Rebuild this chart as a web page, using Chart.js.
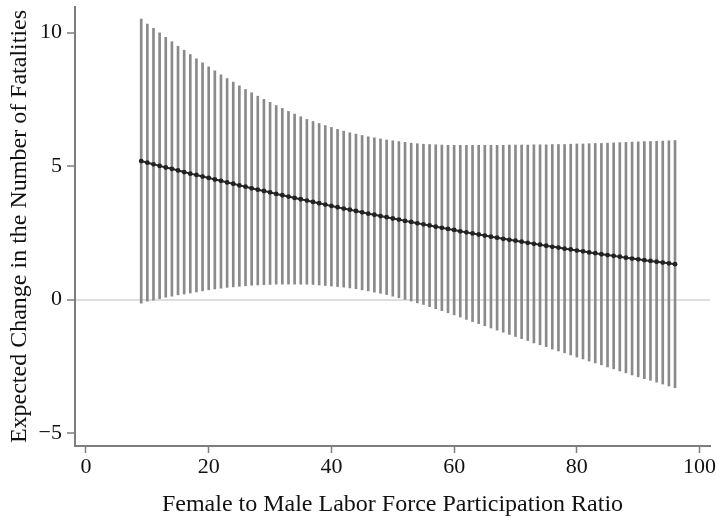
<!DOCTYPE html>
<html>
<head>
<meta charset="utf-8">
<script src="https://cdn.jsdelivr.net/npm/chart.js@4.4.1/dist/chart.umd.min.js"></script>
<style>
  html, body { margin: 0; padding: 0; background: #fff; }
  #wrap { width: 716px; height: 518px; }
</style>
</head>
<body>
<div id="wrap"><canvas id="chart" width="716" height="518"></canvas></div>
<script>
// female to male labor force participation ratio (x positions of the estimates)
const ratio = [
  9, 10, 11, 12, 13, 14, 15, 16, 17, 18, 19, 20, 21, 22, 23, 24, 25, 26, 27, 28,
  29, 30, 31, 32, 33, 34, 35, 36, 37, 38, 39, 40, 41, 42, 43, 44, 45, 46, 47, 48,
  49, 50, 51, 52, 53, 54, 55, 56, 57, 58, 59, 60, 61, 62, 63, 64, 65, 66, 67, 68,
  69, 70, 71, 72, 73, 74, 75, 76, 77, 78, 79, 80, 81, 82, 83, 84, 85, 86, 87, 88,
  89, 90, 91, 92, 93, 94, 95, 96
];

// expected change in fatalities (point estimate)
const estimate = [
  5.19, 5.13, 5.07, 5.01, 4.95, 4.90, 4.84, 4.78, 4.72, 4.67, 4.61, 4.56, 4.50, 4.45, 4.39, 4.34, 4.28, 4.23, 4.17, 4.12,
  4.07, 4.02, 3.96, 3.91, 3.86, 3.81, 3.76, 3.71, 3.66, 3.61, 3.56, 3.51, 3.46, 3.41, 3.37, 3.32, 3.27, 3.22, 3.18, 3.13,
  3.09, 3.04, 3.00, 2.95, 2.91, 2.86, 2.82, 2.78, 2.73, 2.69, 2.65, 2.61, 2.56, 2.52, 2.48, 2.44, 2.40, 2.36, 2.32, 2.28,
  2.24, 2.21, 2.17, 2.13, 2.09, 2.06, 2.02, 1.98, 1.95, 1.91, 1.88, 1.84, 1.81, 1.77, 1.74, 1.70, 1.67, 1.64, 1.61, 1.57,
  1.54, 1.51, 1.48, 1.45, 1.42, 1.39, 1.36, 1.33
];

// upper end of the confidence interval
const upper = [
  10.51, 10.32, 10.16, 9.99, 9.82, 9.66, 9.49, 9.34, 9.18, 9.02, 8.87, 8.72, 8.57, 8.42, 8.28, 8.15, 8.01, 7.87, 7.75, 7.62,
  7.50, 7.39, 7.27, 7.16, 7.05, 6.95, 6.85, 6.75, 6.67, 6.60, 6.52, 6.45, 6.38, 6.31, 6.25, 6.20, 6.15, 6.10, 6.06, 6.02,
  5.98, 5.95, 5.92, 5.89, 5.86, 5.84, 5.82, 5.81, 5.80, 5.79, 5.78, 5.78, 5.78, 5.78, 5.78, 5.78, 5.78, 5.78, 5.78, 5.78,
  5.79, 5.79, 5.79, 5.79, 5.80, 5.80, 5.80, 5.81, 5.81, 5.81, 5.82, 5.83, 5.83, 5.84, 5.85, 5.85, 5.86, 5.87, 5.88, 5.89,
  5.90, 5.91, 5.92, 5.92, 5.93, 5.94, 5.95, 5.96
];

// lower end of the confidence interval
const lower = [
  -0.13, -0.06, -0.02, 0.04, 0.09, 0.13, 0.18, 0.21, 0.25, 0.29, 0.33, 0.37, 0.40, 0.43, 0.46, 0.48, 0.50, 0.52, 0.54, 0.55,
  0.56, 0.57, 0.58, 0.58, 0.58, 0.58, 0.58, 0.58, 0.57, 0.55, 0.53, 0.51, 0.49, 0.47, 0.44, 0.41, 0.37, 0.33, 0.28, 0.24,
  0.19, 0.13, 0.07, 0.01, -0.05, -0.12, -0.18, -0.26, -0.34, -0.41, -0.49, -0.57, -0.65, -0.74, -0.82, -0.90, -0.98, -1.06, -1.14, -1.22,
  -1.30, -1.38, -1.46, -1.53, -1.62, -1.69, -1.76, -1.85, -1.92, -1.99, -2.07, -2.15, -2.22, -2.30, -2.37, -2.44, -2.52, -2.59, -2.67, -2.74,
  -2.82, -2.89, -2.96, -3.02, -3.09, -3.16, -3.23, -3.30
];

const xTicks = [0, 20, 40, 60, 80, 100];
const yTicks = [-5, 0, 5, 10];

const serif = '"Liberation Serif", "DejaVu Serif", serif';
const axisGrey = '#7d7d7d';

const ctx = document.getElementById('chart').getContext('2d');
const chart = new Chart(ctx, {
    type: 'bar',
    data: {
        datasets: [
            {
                type: 'line',
                data: ratio.map((x, i) => ({ x: x, y: estimate[i] })),
                borderColor: '#2b2b2b',
                borderWidth: 2,
                pointRadius: 2.4,
                pointBackgroundColor: '#222',
                pointBorderWidth: 0,
                tension: 0,
                order: 0
            },
            {
                type: 'bar',
                data: ratio.map((x, i) => ({ x: x, y: [lower[i], upper[i]] })),
                backgroundColor: '#8a8a8a',
                borderWidth: 0,
                barThickness: 2,
                order: 1
            }
        ]
    },
    options: {
        responsive: false,
        animation: false,
        layout: { padding: { top: 7, right: 6, left: 0, bottom: 0 } },
        plugins: {
            legend: { display: false },
            tooltip: { enabled: false }
        },
        scales: {
            x: {
                type: 'linear',
                min: -1.79,
                max: 101.7,
                offset: false,
                afterBuildTicks: (scale) => { scale.ticks = xTicks.map(v => ({ value: v })); },
                afterFit: (scale) => {
                    scale.height = 72;
                    scale.paddingLeft = 0;
                    scale.paddingRight = 0;
                },
                grid: {
                    offset: false,
                    drawOnChartArea: false,
                    drawTicks: true,
                    tickLength: 7,
                    tickColor: axisGrey,
                    tickWidth: 1.5
                },
                border: { color: axisGrey, width: 2 },
                ticks: {
                    font: { family: serif, size: 22 },
                    color: '#111',
                    padding: 1,
                    maxRotation: 0
                },
                title: {
                    display: true,
                    text: 'Female to Male Labor Force Participation Ratio',
                    font: { family: serif, size: 24, lineHeight: 1 },
                    color: '#111',
                    padding: { top: 0, bottom: 1 }
                }
            },
            y: {
                type: 'linear',
                min: -5.48,
                max: 10.96,
                afterBuildTicks: (scale) => { scale.ticks = yTicks.map(v => ({ value: v })); },
                afterFit: (scale) => {
                    scale.width = 75;
                    scale.paddingTop = 0;
                    scale.paddingBottom = 0;
                },
                grid: {
                    color: (c) => (c.tick && c.tick.value === 0) ? '#dedede' : 'rgba(0,0,0,0)',
                    lineWidth: 2,
                    drawTicks: true,
                    tickLength: 8,
                    tickColor: axisGrey,
                    tickWidth: 1.5
                },
                border: { color: axisGrey, width: 2 },
                ticks: {
                    font: { family: serif, size: 22 },
                    color: '#111',
                    padding: 5,
                    callback: (v) => v < 0 ? '\u2212' + Math.abs(v) : String(v)
                },
                title: {
                    display: true,
                    text: 'Expected Change in the Number of Fatalities',
                    font: { family: serif, size: 24, lineHeight: 1 },
                    color: '#111',
                    padding: { top: 8, bottom: 0 }
                }
            }
        }
    }
});
</script>
</body>
</html>
